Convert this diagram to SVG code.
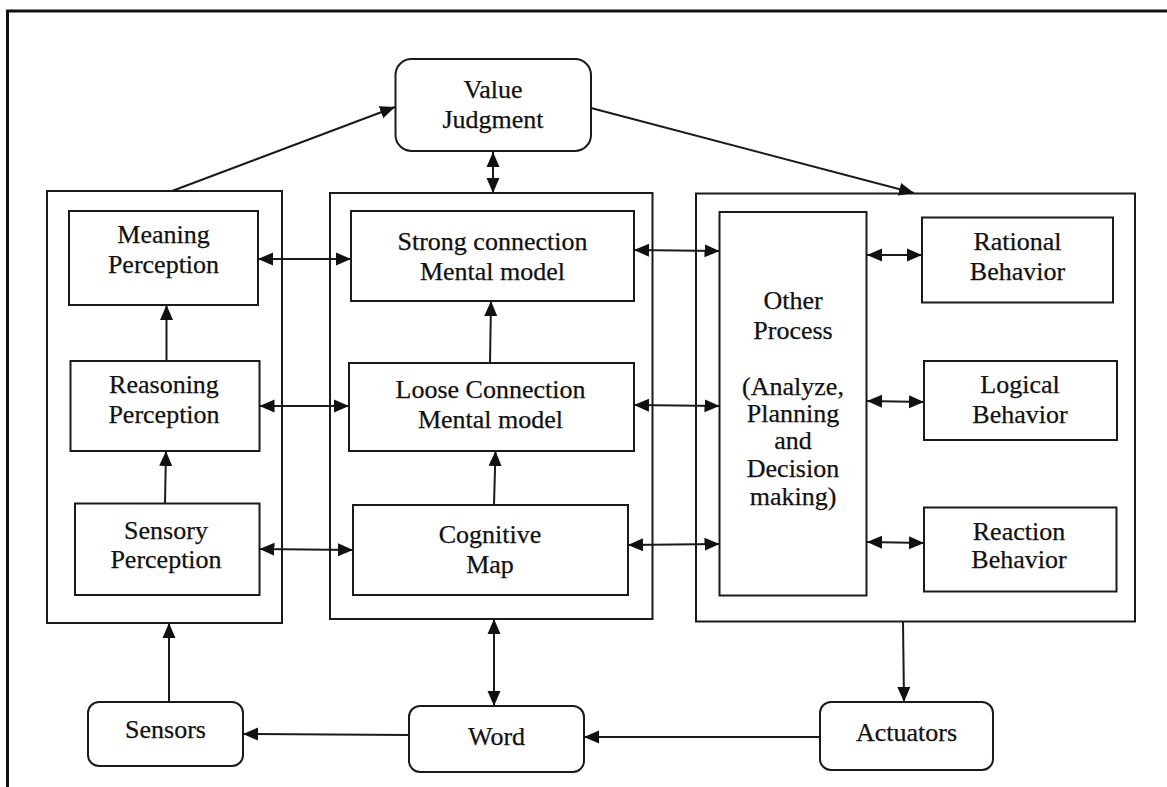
<svg xmlns="http://www.w3.org/2000/svg" width="1167" height="787" viewBox="0 0 1167 787">
  <style>
    .box { fill: #fff; stroke: #1a1a1a; stroke-width: 2; }
    .frame { fill: none; stroke: #1a1a1a; stroke-width: 2; }
    .lbl { font-family: "Liberation Serif", "Times New Roman", serif; font-size: 26px; fill: #111; stroke: #111; stroke-width: 0.25; text-anchor: middle; }
    .edge { fill: none; stroke: #1a1a1a; stroke-width: 2; }
    .one { marker-end: url(#head); }
    .two { marker-start: url(#head); marker-end: url(#head); }
  </style>
  <defs>
    <marker id="head" markerUnits="userSpaceOnUse" markerWidth="15" markerHeight="14" refX="15" refY="7" orient="auto-start-reverse">
      <path d="M0,0.5 L15,7 L0,13.5 z" fill="#111"/>
    </marker>
  </defs>

  <rect width="1167" height="787" fill="#fff"/>

  <!-- page frame: top and left edges -->
  <path d="M7.5,787 V11 H1167" fill="none" stroke="#111" stroke-width="3"/>

  <!-- three column containers -->
  <g id="perception-column">
    <rect class="frame" x="47" y="191" width="235" height="432"/>
  </g>
  <g id="model-column">
    <rect class="frame" x="330" y="193" width="322.5" height="426"/>
  </g>
  <g id="behavior-column">
    <rect class="frame" x="696" y="193.5" width="439" height="428"/>
  </g>

  <g id="value-judgment">
    <rect class="box" x="395.5" y="59" width="195.5" height="92" rx="16"/>
    <text class="lbl" x="493" y="98">Value</text>
    <text class="lbl" x="493" y="128">Judgment</text>
  </g>

  <g id="meaning-perception">
    <rect class="box" x="69" y="211" width="189" height="94"/>
    <text class="lbl" x="163.5" y="243">Meaning</text>
    <text class="lbl" x="163.5" y="273">Perception</text>
  </g>
  <g id="reasoning-perception">
    <rect class="box" x="70.5" y="361" width="189" height="90"/>
    <text class="lbl" x="164" y="393">Reasoning</text>
    <text class="lbl" x="164" y="423">Perception</text>
  </g>
  <g id="sensory-perception">
    <rect class="box" x="75" y="503.5" width="184.5" height="91.5"/>
    <text class="lbl" x="166" y="539">Sensory</text>
    <text class="lbl" x="166" y="568">Perception</text>
  </g>

  <g id="strong-connection">
    <rect class="box" x="351" y="211" width="283" height="90"/>
    <text class="lbl" x="492.5" y="250">Strong connection</text>
    <text class="lbl" x="492.5" y="280">Mental model</text>
  </g>
  <g id="loose-connection">
    <rect class="box" x="349" y="363" width="285" height="88"/>
    <text class="lbl" x="490.5" y="398">Loose Connection</text>
    <text class="lbl" x="490.5" y="428">Mental model</text>
  </g>
  <g id="cognitive-map">
    <rect class="box" x="353" y="505" width="275" height="90"/>
    <text class="lbl" x="490" y="543">Cognitive</text>
    <text class="lbl" x="490" y="573">Map</text>
  </g>

  <g id="other-process">
    <rect class="box" x="719.5" y="212" width="147" height="383.5"/>
    <text class="lbl" x="793" y="309">Other</text>
    <text class="lbl" x="793" y="339">Process</text>
    <text class="lbl" x="793" y="395">(Analyze,</text>
    <text class="lbl" x="793" y="422">Planning</text>
    <text class="lbl" x="793" y="449">and</text>
    <text class="lbl" x="793" y="477">Decision</text>
    <text class="lbl" x="793" y="505">making)</text>
  </g>
  <g id="rational-behavior">
    <rect class="box" x="922" y="217.5" width="191" height="85"/>
    <text class="lbl" x="1017.5" y="250">Rational</text>
    <text class="lbl" x="1017.5" y="280">Behavior</text>
  </g>
  <g id="logical-behavior">
    <rect class="box" x="924" y="361" width="193" height="79"/>
    <text class="lbl" x="1020" y="393">Logical</text>
    <text class="lbl" x="1020" y="423">Behavior</text>
  </g>
  <g id="reaction-behavior">
    <rect class="box" x="924" y="507.5" width="192.5" height="84"/>
    <text class="lbl" x="1019" y="540">Reaction</text>
    <text class="lbl" x="1019" y="568">Behavior</text>
  </g>

  <g id="sensors">
    <rect class="box" x="88" y="702" width="155" height="64" rx="11"/>
    <text class="lbl" x="165.5" y="738">Sensors</text>
  </g>
  <g id="word">
    <rect class="box" x="409" y="706" width="175" height="66" rx="11"/>
    <text class="lbl" x="496.5" y="745">Word</text>
  </g>
  <g id="actuators">
    <rect class="box" x="820" y="702" width="173" height="68" rx="11"/>
    <text class="lbl" x="906.5" y="741">Actuators</text>
  </g>

  <g id="connectors">
    <!-- to and from value judgment -->
    <line class="edge one" x1="172" y1="191" x2="395" y2="107"/>
    <line class="edge one" x1="591" y1="108" x2="914" y2="193"/>
    <line class="edge two" x1="493" y1="152" x2="493" y2="193"/>

    <!-- perception to mental models -->
    <line class="edge two" x1="258" y1="259" x2="351" y2="259"/>
    <line class="edge two" x1="259.5" y1="406" x2="349" y2="406"/>
    <line class="edge two" x1="259.5" y1="549" x2="353" y2="550"/>

    <!-- mental models to other process -->
    <line class="edge two" x1="634" y1="250" x2="719.5" y2="251"/>
    <line class="edge two" x1="634" y1="405" x2="719.5" y2="406"/>
    <line class="edge two" x1="628" y1="545" x2="719.5" y2="544"/>

    <!-- other process to behaviours -->
    <line class="edge two" x1="867" y1="255" x2="922" y2="255"/>
    <line class="edge two" x1="867" y1="401" x2="924" y2="402"/>
    <line class="edge two" x1="867" y1="542" x2="924" y2="543"/>

    <!-- upward steps inside columns -->
    <line class="edge one" x1="166.5" y1="361" x2="166.5" y2="305"/>
    <line class="edge one" x1="165" y1="503.5" x2="166" y2="451"/>
    <line class="edge one" x1="490" y1="363" x2="491" y2="301"/>
    <line class="edge one" x1="494" y1="505" x2="495.5" y2="451"/>

    <!-- world loop -->
    <line class="edge one" x1="169" y1="702" x2="169" y2="623"/>
    <line class="edge two" x1="494" y1="619" x2="494" y2="706"/>
    <line class="edge one" x1="409" y1="735" x2="243" y2="734"/>
    <line class="edge one" x1="820" y1="737" x2="584" y2="737"/>
    <line class="edge one" x1="903" y1="621.5" x2="904" y2="702"/>
  </g>
</svg>
